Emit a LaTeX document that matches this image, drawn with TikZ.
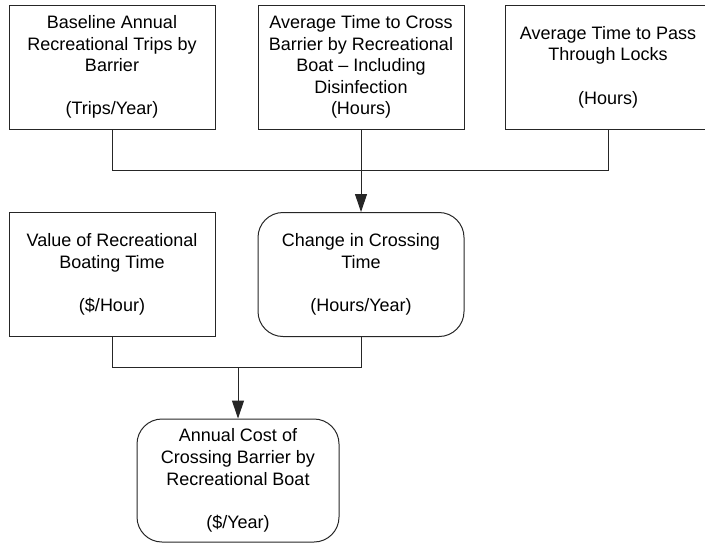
\documentclass[tikz,border=0pt]{standalone}
\usepackage{fontspec}
\setmainfont{Liberation Sans}
\usetikzlibrary{arrows.meta, positioning}

\begin{document}
\begin{tikzpicture}[x=0.5pt, y=-0.5pt,
        varbox/.style={draw=black!85, line width=0.5pt, align=center, minimum width=103pt, minimum height=62pt, inner sep=2pt, font=\fontsize{9}{10.8}\selectfont},
        calcbox/.style={varbox, rounded corners=12.5pt},
        link/.style={draw=black!85, line width=0.5pt},
        feed/.style={link, -{Triangle[length=9pt, width=6pt]}}]
            \useasboundingbox (0,0) rectangle (705,543);
            \node[varbox] (trips) at (112,67) {Baseline Annual\\Recreational Trips by\\Barrier\\[10.8pt](Trips/Year)};
            \node[varbox] (crosstime) at (361,67) {Average Time to Cross\\Barrier by Recreational\\Boat -- Including\\Disinfection\\(Hours)};
            \node[varbox] (locktime) at (608,67) {Average Time to Pass\\Through Locks\\[10.8pt](Hours)};
            \node[varbox] (boatvalue) at (112,274.5) {Value of Recreational\\Boating Time\\[10.8pt](\$/Hour)};
            \node[calcbox] (crosschange) at (361,274.5) {Change in Crossing\\Time\\[10.8pt](Hours/Year)};
            \node[calcbox, minimum width=101pt, minimum height=61.5pt] (annualcost) at (238,480.5) {Annual Cost of\\Crossing Barrier by\\Recreational Boat\\[10.8pt](\$/Year)};
            \coordinate (join1) at (361,170);
            \coordinate (join2) at (238,367);
            \draw[link] (trips.south) |- (join1) -| (locktime.south);
            \draw[link] (crosstime.south) -- (join1);
            \draw[feed] (join1) -- (crosschange.north);
            \draw[link] (boatvalue.south) |- (join2) -| (crosschange.south);
            \draw[feed] (join2) -- (annualcost.north);
        \end{tikzpicture}
\end{document}
